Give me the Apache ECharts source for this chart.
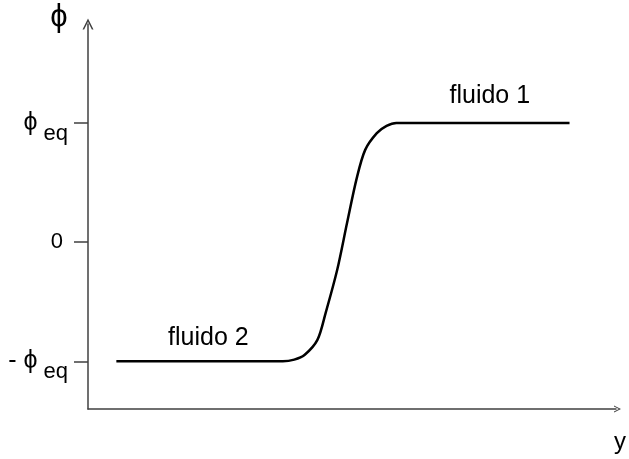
<!DOCTYPE html>
<html>
<head>
<meta charset="utf-8">
<script src="https://cdn.jsdelivr.net/npm/echarts@6/dist/echarts.min.js"></script>
<style>
  html, body { margin: 0; padding: 0; background: #fff; }
  #chart { width: 629px; height: 459px; }
</style>
</head>
<body>
<div id="chart"></div>
<script>
// Interface profile: order parameter phi across the position y
const posY = [5.37, 36.9, 39.06, 41.0, 43.45, 45.0, 47.2, 49.06, 50.9, 52.5, 54.7, 56.55, 58.4, 91.2];
const phi = [-1.0, -1.0, -0.986, -0.947, -0.82, -0.595, -0.232, 0.16, 0.537, 0.774, 0.914, 0.975, 1.0, 1.0];

// Tick values on the phi axis and their labels
const phiTicks = [-1, 0, 1];
const phiTickLabels = ['{p|- \u03d5}{s| eq}', '{z|0}', '{p|\u03d5}{s| eq}'];

// Phase labels
const phaseNames = ['fluido 2', 'fluido 1'];
const phaseX = [22.8, 76.1];
const phaseY = [-0.807, 1.227];

const FONT = '"Liberation Sans", Arial, "DejaVu Sans", sans-serif';
const AXIS_COLOR = '#404040';
// open chevron used as the arrow head on both axes
const chevron = 'path://M0,10 L5,0 L10,10 L8.5,10 L5,3 L1.5,10 Z';

const chart = echarts.init(document.getElementById('chart'), null, { renderer: 'canvas' });

const curve = posY.map((x, i) => [x, phi[i]]);
const phaseLabels = phaseNames.map((n, i) => ({ name: n, value: [phaseX[i], phaseY[i]] }));

chart.setOption({
  animation: false,
  backgroundColor: '#fff',
  grid: { left: 88, right: 7, top: 24, bottom: 50 },
  xAxis: {
    type: 'value',
    min: 0,
    max: 100,
    name: 'y',
    nameLocation: 'end',
    nameGap: 4,
    nameTextStyle: {
      fontFamily: FONT, fontSize: 24, color: '#000',
      align: 'center', verticalAlign: 'top', padding: [21, 0, 0, 0]
    },
    axisLine: {
      show: true, onZero: false,
      symbol: ['none', chevron], symbolSize: [14, 7], symbolOffset: [0, 1.5],
      lineStyle: { color: AXIS_COLOR, width: 1.5 }
    },
    axisTick: { show: false },
    axisLabel: { show: false },
    splitLine: { show: false }
  },
  yAxis: {
    type: 'value',
    min: -1.4,
    max: 1.83,
    name: '\u03d5',
    nameLocation: 'end',
    nameGap: 7,
    nameTextStyle: {
      fontFamily: FONT, fontSize: 31, color: '#000',
      align: 'center', verticalAlign: 'middle', padding: [0, 58, 0, 0]
    },
    axisLine: {
      show: true, onZero: false,
      symbol: ['none', chevron], symbolSize: [11, 11], symbolOffset: [0, 0],
      lineStyle: { color: AXIS_COLOR, width: 1.5 }
    },
    axisTick: {
      show: true, inside: false, length: 14,
      customValues: phiTicks,
      lineStyle: { color: AXIS_COLOR, width: 1.5 }
    },
    axisLabel: {
      show: true,
      margin: 20,
      customValues: phiTicks,
      formatter: function (v) {
        const i = phiTicks.indexOf(v);
        return i >= 0 ? phiTickLabels[i] : '';
      },
      rich: {
        // main symbol sits on the tick, the subscript drops below it
        p: { fontFamily: FONT, fontSize: 25, color: '#000', lineHeight: 42, verticalAlign: 'middle' },
        s: { fontFamily: FONT, fontSize: 22, color: '#000', lineHeight: 44, verticalAlign: 'bottom' },
        z: { fontFamily: FONT, fontSize: 22, color: '#000', lineHeight: 22, padding: [0, 5, 0, 0] }
      }
    },
    splitLine: { show: false }
  },
  series: [
    {
      type: 'line',
      data: curve,
      smooth: 0.3,
      showSymbol: false,
      silent: true,
      lineStyle: { color: '#000', width: 2.5 }
    },
    {
      type: 'scatter',
      data: phaseLabels,
      symbolSize: 0,
      silent: true,
      itemStyle: { opacity: 1 },
      label: {
        show: true,
        position: 'inside',
        formatter: '{b}',
        fontFamily: FONT,
        fontSize: 25,
        color: '#000',
        opacity: 1,
        textBorderWidth: 0
      }
    }
  ]
});
</script>
</body>
</html>
